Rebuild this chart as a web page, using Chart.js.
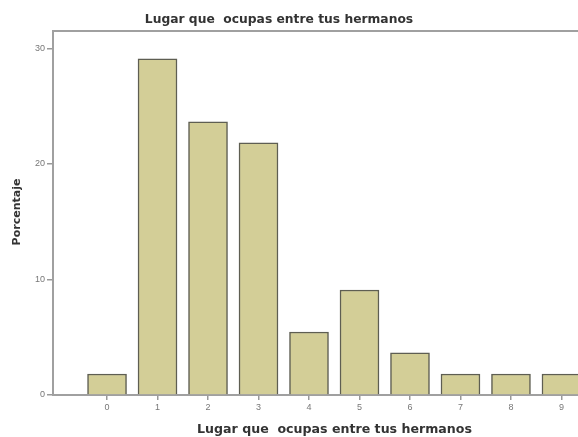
<!DOCTYPE html>
<html><head><meta charset="utf-8">
<script src="https://cdn.jsdelivr.net/npm/chart.js@4/dist/chart.umd.min.js"></script>
<style>
html,body{margin:0;padding:0;background:#fff;overflow:hidden;width:578px;height:437px;}
#wrap{position:absolute;left:0;top:0;width:620px;height:437px;}
</style></head>
<body>
<div id="wrap"><canvas id="c" width="620" height="437"></canvas></div>
<script>
const titleText = 'Lugar que  ocupas entre tus hermanos';
const xAxisTitle = 'Lugar que  ocupas entre tus hermanos';
const yAxisTitle = 'Porcentaje';
const categories = [0, 1, 2, 3, 4, 5, 6, 7, 8, 9];
const percentages = [1.82, 29.09, 23.64, 21.82, 5.45, 9.09, 3.64, 1.82, 1.82, 1.82];
const yTicks = [0, 10, 20, 30];

const titleFont = 'bold 12.3px "DejaVu Sans", sans-serif';

const frame = {
  id: 'frame',
  afterDraw(chart) {
    const {ctx, chartArea: a} = chart;
    ctx.save();
    ctx.strokeStyle = '#a0a0a0';
    ctx.lineWidth = 2;
    ctx.beginPath();
    ctx.moveTo(a.left, a.top);
    ctx.lineTo(a.right, a.top);
    ctx.lineTo(a.right, a.bottom);
    ctx.stroke();
    ctx.fillStyle = '#333';
    ctx.font = titleFont;
    ctx.textAlign = 'center';
    ctx.textBaseline = 'middle';
    ctx.fillText(titleText, 279, 20);
    ctx.translate(17, 212);
    ctx.rotate(-Math.PI / 2);
    ctx.font = 'bold 11px "DejaVu Sans", sans-serif';
    ctx.fillText(yAxisTitle, 0, 0);
    ctx.restore();
  }
};

new Chart(document.getElementById('c'), {
  type: 'bar',
  data: {
    datasets: [{
      data: categories.map((c, i) => ({x: c, y: percentages[i]})),
      backgroundColor: '#d3ce97',
      borderColor: '#5e5e52',
      borderWidth: 1.5,
      barThickness: 39
    }]
  },
  options: {
    responsive: false,
    animation: false,
    layout: {padding: {top: 31, right: 4, left: 0, bottom: 0}},
    plugins: {legend: {display: false}, tooltip: {enabled: false}},
    scales: {
      x: {
        type: 'linear',
        offset: false,
        min: -1.07,
        max: 10.08,
        afterBuildTicks: s => { s.ticks = categories.map(v => ({value: v})); },
        afterFit: s => { s.height = 42; },
        grid: {display: true, offset: false, drawOnChartArea: false, drawTicks: true, tickLength: 5, color: '#999', lineWidth: 1.5},
        border: {display: true, color: '#a0a0a0', width: 2},
        ticks: {color: '#777', font: {family: '"Liberation Sans", Arial, sans-serif', size: 9}, padding: 2, callback: v => String(v)},
        title: {display: true, text: xAxisTitle, color: '#333', font: {family: '"DejaVu Sans", sans-serif', size: 12.6, weight: 'bold'}, padding: {top: 5, bottom: 0}}
      },
      y: {
        min: 0,
        max: 31.5,
        afterBuildTicks: s => { s.ticks = yTicks.map(v => ({value: v})); },
        afterFit: s => { s.width = 53; },
        grid: {display: true, drawOnChartArea: false, drawTicks: true, tickLength: 6, color: '#999', lineWidth: 1.5},
        border: {display: true, color: '#a0a0a0', width: 2},
        ticks: {color: '#777', font: {family: '"Liberation Sans", Arial, sans-serif', size: 9}, padding: 2}
      }
    }
  },
  plugins: [frame]
});
</script>
</body></html>
